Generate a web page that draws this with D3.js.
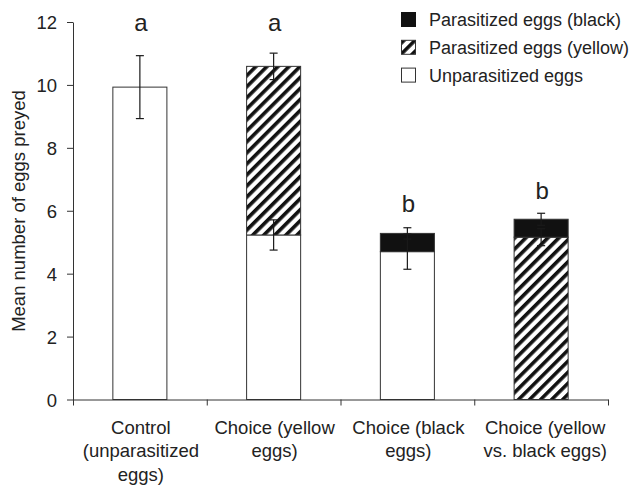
<!DOCTYPE html>
<html>
<head>
<meta charset="utf-8">
<script src="https://cdn.jsdelivr.net/npm/d3@7"></script>
<style>
  body { margin: 0; background: #fff; }
  svg { display: block; font-family: "Liberation Sans", Arial, sans-serif; }
</style>
</head>
<body>
<svg id="chart"></svg>
<script>
// data
const categories = ["control", "choiceYellow", "choiceBlack", "choiceBoth"];
const categoryLabels = [
  ["Control", "(unparasitized", "eggs)"],
  ["Choice (yellow", "eggs)"],
  ["Choice (black", "eggs)"],
  ["Choice (yellow", "vs. black eggs)"]
];
const unparasitized = [9.93, 5.23, 4.70, 0];
const parasitizedYellow = [0, 5.36, 0, 5.16];
const parasitizedBlack = [0, 0, 0.58, 0.57];
const errUnparasitized = [1.0, 0.48, 0.56, 0];
const errYellow = [0, 0.42, 0, 0.27];
const errBlack = [0, 0, 0.18, 0.19];
const letters = ["a", "a", "b", "b"];
const letterPos = [11.72, 11.72, 5.97, 6.37];
const yTicks = [0, 2, 4, 6, 8, 10, 12];
const legendItems = [
  { key: "black", label: "Parasitized eggs (black)" },
  { key: "yellow", label: "Parasitized eggs (yellow)" },
  { key: "unpar", label: "Unparasitized eggs" }
];

const W = 632, H = 486;
const margin = { top: 22, right: 24, bottom: 86.5, left: 73 };
const ink = "#222";
const fontSize = "18.5px";

const svg = d3.select("#chart").attr("width", W).attr("height", H);

// hatch pattern
const defs = svg.append("defs");
defs.append("pattern")
  .attr("id", "hatch")
  .attr("patternUnits", "userSpaceOnUse")
  .attr("width", 7.8)
  .attr("height", 7.8)
  .attr("patternTransform", "rotate(45)")
  .call(p => {
    p.append("rect").attr("width", 7.8).attr("height", 7.8).attr("fill", "#fff");
    p.append("rect").attr("width", 3.6).attr("height", 7.8).attr("fill", "#111");
  });

const fills = { unpar: "#fff", yellow: "url(#hatch)", black: "#111" };

const x = d3.scaleBand()
  .domain(categories)
  .range([margin.left, W - margin.right])
  .padding(0);

const xLin = d3.scaleLinear()
  .domain([0, categories.length])
  .range([margin.left, W - margin.right]);

const y = d3.scaleLinear()
  .domain([0, 12])
  .range([H - margin.bottom, margin.top]);

const barW = x.bandwidth() * 0.404;

// stacked segments
const rows = categories.map((c, i) => ({
  cat: c,
  segs: [
    { key: "unpar", v: unparasitized[i], e: errUnparasitized[i] },
    { key: "yellow", v: parasitizedYellow[i], e: errYellow[i] },
    { key: "black", v: parasitizedBlack[i], e: errBlack[i] }
  ]
}));
rows.forEach(r => {
  let acc = 0;
  r.segs.forEach(s => { s.y0 = acc; acc += s.v; s.y1 = acc; });
});

const bars = svg.append("g");
rows.forEach(r => {
  const cx = x(r.cat) + x.bandwidth() / 2;
  bars.selectAll(null)
    .data(r.segs.filter(s => s.v > 0))
    .enter()
    .append("rect")
    .attr("x", cx - barW / 2)
    .attr("width", barW)
    .attr("y", s => y(s.y1))
    .attr("height", s => y(s.y0) - y(s.y1))
    .attr("fill", s => fills[s.key])
    .attr("stroke", "#333")
    .attr("stroke-width", 1);
});

// error bars (black, so they vanish inside the black segments)
const errs = svg.append("g").attr("stroke", "#1a1a1a").attr("stroke-width", 1.2).attr("fill", "none");
rows.forEach(r => {
  const cx = x(r.cat) + x.bandwidth() / 2;
  r.segs.filter(s => s.v > 0 && s.e > 0).forEach(s => {
    const top = y(s.y1 + s.e), bot = y(s.y1 - s.e);
    errs.append("line").attr("x1", cx).attr("x2", cx).attr("y1", top).attr("y2", bot);
    errs.append("line").attr("x1", cx - 4).attr("x2", cx + 4).attr("y1", top).attr("y2", top);
    errs.append("line").attr("x1", cx - 4).attr("x2", cx + 4).attr("y1", bot).attr("y2", bot);
  });
});

// significance letters
svg.append("g")
  .selectAll("text")
  .data(categories)
  .enter()
  .append("text")
  .attr("x", d => x(d) + x.bandwidth() / 2 + 1)
  .attr("y", (d, i) => y(letterPos[i]))
  .attr("text-anchor", "middle")
  .style("font-size", "24px")
  .style("fill", ink)
  .text((d, i) => letters[i]);

// y axis
const yAxis = svg.append("g")
  .attr("transform", `translate(${margin.left},0)`)
  .call(d3.axisLeft(y).tickValues(yTicks).tickSize(6).tickSizeOuter(0).tickPadding(10));
yAxis.selectAll("text").style("font-size", fontSize).style("fill", ink).attr("dy", "0.36em");
yAxis.selectAll("path, line").attr("stroke", "#333");

// x axis with ticks at the category boundaries
const xAxis = svg.append("g")
  .attr("transform", `translate(0,${y(0)})`)
  .call(d3.axisBottom(xLin).tickValues(d3.range(categories.length + 1)).tickSize(6).tickSizeOuter(0).tickFormat(""));
xAxis.selectAll("path, line").attr("stroke", "#333");

// category labels
const labels = svg.append("g");
categories.forEach((c, i) => {
  const t = labels.append("text")
    .attr("text-anchor", "middle")
    .style("font-size", fontSize)
    .style("fill", ink);
  categoryLabels[i].forEach((line, j) => {
    t.append("tspan")
      .attr("x", x(c) + x.bandwidth() / 2 + (i === 3 ? 4 : 1))
      .attr("y", y(0) + 34 + j * 23.7)
      .text(line);
  });
});

// y axis title
svg.append("text")
  .attr("transform", `translate(24.5, 211) rotate(-90)`)
  .attr("text-anchor", "middle")
  .style("font-size", fontSize)
  .style("fill", ink)
  .text("Mean number of eggs preyed");

// legend
const legend = svg.append("g").attr("transform", "translate(401.5, 12.5)");
const li = legend.selectAll("g")
  .data(legendItems)
  .enter()
  .append("g")
  .attr("transform", (d, i) => `translate(0, ${i * 27.8})`);
li.append("rect")
  .attr("width", 14)
  .attr("height", 14)
  .attr("fill", d => fills[d.key])
  .attr("stroke", d => d.key === "black" ? "#111" : "#333")
  .attr("stroke-width", 1);
li.append("text")
  .attr("x", 27.5)
  .attr("y", 13.5)
  .style("font-size", "18px")
  .style("fill", ink)
  .text(d => d.label);
</script>
</body>
</html>
